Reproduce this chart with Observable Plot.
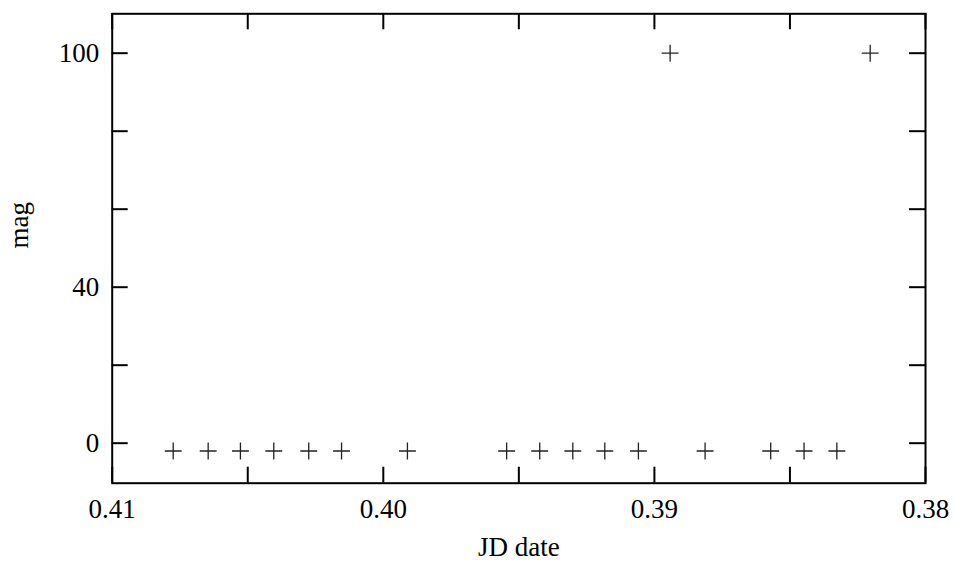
<!DOCTYPE html>
<html>
<head>
<meta charset="utf-8">
<script src="https://cdn.jsdelivr.net/npm/d3@7"></script>
<script src="https://cdn.jsdelivr.net/npm/@observablehq/plot@0.6"></script>
<style>
  html, body { margin: 0; padding: 0; background: #fff; }
</style>
</head>
<body>
<div id="chart"></div>
<script>
// Data
const jd  = [0.40775, 0.40646, 0.40527, 0.40404, 0.40275, 0.40154, 0.39911, 0.39545, 0.39423,
             0.39301, 0.39183, 0.39059, 0.38942, 0.38813, 0.38571, 0.38448, 0.38327, 0.38204];
const mag = [-2, -2, -2, -2, -2, -2, -2, -2, -2,
             -2, -2, -2, 100, -2, -2, -2, -2, 100];

const xTicks = [0.41, 0.405, 0.40, 0.395, 0.39, 0.385, 0.38];
const xTickLabels = [0.41, 0.40, 0.39, 0.38];
const yTicks = [0, 20, 40, 60, 80, 100];
const yTickLabels = [0, 40, 100];
const xLabel = "JD date";
const yLabel = "mag";

const points = jd.map((d, i) => ({jd: d, mag: mag[i]}));

const W = 954, H = 564;
const mL = 111.7, mR = 29, mT = 13.3, mB = 81.3;
const fw = W - mL - mR, fh = H - mT - mB;
const tickLen = 16;

const chart = Plot.plot({
  width: W,
  height: H,
  marginLeft: mL,
  marginRight: mR,
  marginTop: mT,
  marginBottom: mB,
  style: {fontFamily: "'Liberation Serif', 'DejaVu Serif', serif", fontSize: "27px", color: "#000", background: "#fff"},
  x: {domain: [0.41, 0.38]},
  y: {domain: [-10.26, 110.1]},
  marks: [
    // inward ticks, all four sides
    Plot.ruleX(xTicks, {x: d => d, insetTop: fh - tickLen, stroke: "#000", strokeWidth: 2}),
    Plot.ruleX(xTicks, {x: d => d, insetBottom: fh - tickLen, stroke: "#000", strokeWidth: 2}),
    Plot.ruleY(yTicks, {y: d => d, insetRight: fw - tickLen, stroke: "#000", strokeWidth: 2}),
    Plot.ruleY(yTicks, {y: d => d, insetLeft: fw - tickLen, stroke: "#000", strokeWidth: 2}),
    Plot.frame({stroke: "#000", strokeWidth: 2}),
    Plot.axisX(xTickLabels, {anchor: "bottom", tickSize: 0, tickPadding: 16, tickFormat: d => d.toFixed(2), label: null, fontSize: 27}),
    Plot.axisY(yTickLabels, {anchor: "left", tickSize: 0, tickPadding: 13, tickFormat: d => String(d), label: null, fontSize: 27}),
    Plot.text([xLabel], {frameAnchor: "bottom", dy: 73, text: d => d, fontSize: 27, fill: "#000"}),
    Plot.text([yLabel], {frameAnchor: "left", dx: -93, rotate: -90, text: d => d, fontSize: 27, fill: "#000"}),
    Plot.dot(points, {x: "jd", y: "mag", symbol: "plus", r: 5.5, stroke: "#222", strokeWidth: 1.3})
  ]
});
document.getElementById("chart").appendChild(chart);
</script>
</body>
</html>
